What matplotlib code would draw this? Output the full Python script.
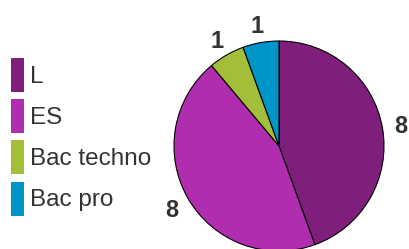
import matplotlib
matplotlib.use("Agg")
import matplotlib.pyplot as plt

# ---------------------------------------------------------------------------
# Data
# ---------------------------------------------------------------------------
categories = ["L", "ES", "Bac techno", "Bac pro"]
counts     = [8, 8, 1, 1]
colors     = ["#7f1f7b", "#b12daf", "#a3bf3a", "#0095c9"]

W, H = 409, 249
DPI  = 100
TEXT = "#333333"
FS   = 17.5

plt.rcParams["font.family"] = ["Liberation Sans", "DejaVu Sans"]

fig = plt.figure(figsize=(W / DPI, H / DPI), dpi=DPI)

# pie centred at (279, 146) px, radius 105 px
cx, cy, r = 279, 146, 105
ax = fig.add_axes([(cx - r) / W, (H - cy - r) / H, 2 * r / W, 2 * r / H])

wedges, texts = ax.pie(
    counts,
    labels=[str(c) for c in counts],
    colors=colors,
    startangle=90,
    counterclock=False,
    labeldistance=1.18,
    wedgeprops=dict(edgecolor="black", linewidth=0.8),
    textprops=dict(fontsize=17, color=TEXT, fontweight="bold"),
)
for t in texts:
    t.set_horizontalalignment("center")
    t.set_verticalalignment("center_baseline")
ax.set_xlim(-1, 1)
ax.set_ylim(-1, 1)
ax.set_aspect("equal")
ax.axis("off")

# legend: tall narrow swatches
leg = fig.legend(
    wedges, categories,
    loc="upper left",
    bbox_to_anchor=(11 / W, 1 - 58 / H),
    frameon=False,
    fontsize=FS,
    handlelength=0.55,
    handleheight=1.77,
    handletextpad=0.22,
    labelspacing=0.3,
    borderaxespad=0,
    borderpad=0,
)
for t in leg.get_texts():
    t.set_color(TEXT)
for h in leg.legend_handles:
    h.set_edgecolor("none")

fig.savefig("out.png", dpi=DPI)
